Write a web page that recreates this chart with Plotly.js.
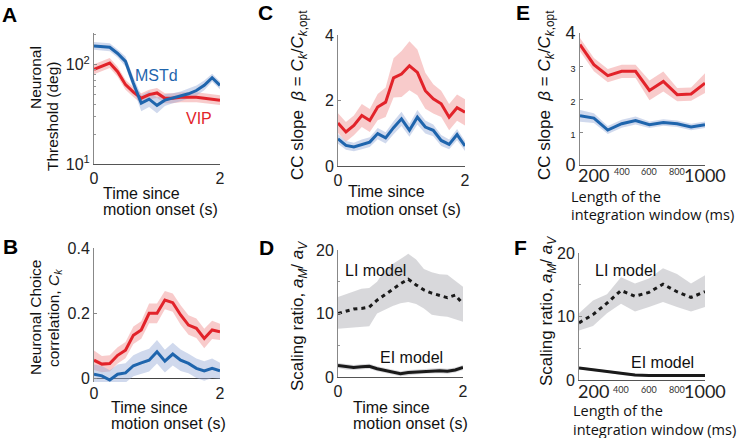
<!DOCTYPE html>
<html><head><meta charset="utf-8">
<script src="https://cdn.plot.ly/plotly-3.0.1.min.js"></script>
<style>body{margin:0;background:#fff}#c{width:740px;height:438px}</style>
</head><body><div id="c"></div>
<script>
// ---------- DATA ----------
const timeS = [0,0.125,0.25,0.375,0.5,0.625,0.75,0.875,1.0,1.125,1.25,1.375,1.5,1.625,1.75,1.875,2.0];
const windowMs = [100,200,300,400,500,600,700,800,900,1000];
const windowBigTicks = [200,1000];
const windowSmallTicks = [400,600,800];

// A: neuronal threshold (deg)
const thrMSTd = [155,153,150,130,108,65,41,45,39,44,46,48,51,55,62,74,62];
const thrMSTdErrLog = [0.04,0.04,0.04,0.04,0.05,0.06,0.08,0.08,0.08,0.06,0.05,0.05,0.05,0.05,0.05,0.04,0.04];
const thrVIP = [90,97,104,85,63,53,46,50,52,46,46,47,47,47,46,45,44];
const thrVIPErrLog = [0.05,0.05,0.05,0.05,0.05,0.05,0.05,0.05,0.05,0.05,0.05,0.05,0.05,0.05,0.05,0.05,0.05];

// B: choice correlation
const ccVIP = [0.055,0.043,0.045,0.07,0.086,0.132,0.148,0.199,0.199,0.24,0.232,0.194,0.163,0.153,0.122,0.148,0.142];
const ccVIPErr = [0.03,0.025,0.025,0.025,0.025,0.027,0.027,0.03,0.03,0.028,0.028,0.03,0.03,0.03,0.03,0.028,0.025];
const ccMSTd = [0.012,0.007,-0.006,0.012,0.016,0.038,0.047,0.055,0.081,0.052,0.074,0.055,0.045,0.030,0.022,0.030,0.022];
const ccMSTdErr = [0.03,0.03,0.03,0.03,0.03,0.032,0.035,0.035,0.036,0.035,0.035,0.033,0.03,0.03,0.03,0.03,0.025];

// C: CC slope vs time
const slopeVIP = [1.31,1.04,1.24,1.54,1.39,1.80,1.95,2.69,2.81,3.06,2.86,2.30,2.05,1.90,1.49,1.78,1.64];
const slopeVIPErr = [0.3,0.3,0.3,0.35,0.35,0.4,0.45,0.6,0.7,0.75,0.7,0.55,0.45,0.4,0.4,0.4,0.4];
const slopeMSTd = [0.83,0.63,0.58,0.66,0.73,0.99,0.86,1.17,1.44,1.09,1.49,1.19,1.09,0.78,0.66,0.96,0.61];
const slopeMSTdErr = [0.15,0.13,0.13,0.15,0.15,0.17,0.17,0.2,0.22,0.2,0.22,0.2,0.18,0.17,0.15,0.17,0.15];

// D: scaling ratio vs time
const liTime = [10.0,10.4,10.7,10.8,11.0,12.1,12.9,13.8,14.7,15.4,14.5,13.7,13.2,12.8,12.5,12.9,11.5];
const liTimeHi = [12.6,13.0,13.5,13.9,14.0,15.0,16.8,17.8,18.6,19.4,18.5,17.0,16.5,16.2,16.1,15.2,14.2];
const liTimeLo = [7.6,7.7,7.8,7.9,8.0,10.0,10.6,11.2,11.6,11.8,11.5,10.8,9.8,9.6,9.5,9.1,8.7];
const eiTime = [1.8,1.6,1.5,1.6,1.7,1.3,1.0,0.8,0.5,0.7,0.8,0.9,1.0,1.0,0.9,1.1,1.5];
const eiTimeErr = [0.4,0.4,0.4,0.4,0.4,0.4,0.4,0.4,0.4,0.4,0.4,0.4,0.4,0.4,0.4,0.4,0.4];

// E: CC slope vs window length
const winVIP = [3.65,3.04,2.71,2.84,2.84,2.26,2.53,2.13,2.15,2.48];
const winVIPErr = [0.2,0.2,0.2,0.2,0.2,0.3,0.3,0.2,0.2,0.3];
const winMSTd = [1.49,1.42,1.06,1.25,1.35,1.22,1.29,1.25,1.15,1.22];
const winMSTdErr = [0.18,0.15,0.12,0.12,0.12,0.1,0.1,0.1,0.1,0.1];

// F: scaling ratio vs window length
const liWin = [9.0,10.3,12.1,14.1,13.2,13.8,15.1,13.9,13.0,13.9];
const liWinHi = [10.5,12.5,13.5,16.2,15.2,16.0,17.6,16.7,15.2,16.5];
const liWinLo = [7.8,8.5,10.5,12.0,10.8,11.5,12.3,11.5,10.8,11.5];
const eiWin = [1.9,1.6,1.4,1.0,0.8,0.7,0.7,0.7,0.7,0.7];
const eiWinErr = [0.2,0.2,0.2,0.2,0.2,0.2,0.2,0.2,0.2,0.2];

// ---------- STYLE ----------
const RED = '#e2232a', BLUE = '#1f65ad', BLACK = '#1a1a1a';
const RED_BAND = 'rgba(240,140,140,0.45)', BLUE_BAND = 'rgba(150,170,215,0.45)', GRAY_BAND = 'rgba(200,200,204,0.7)';
const FONT = 'Liberation Sans';
const W = 740, H = 438;

function band(x, lo, hi, color, ax) {
  return {x: x.concat(x.slice().reverse()), y: hi.concat(lo.slice().reverse()),
    fill: 'toself', fillcolor: color, line: {width: 0}, mode: 'lines', hoverinfo: 'skip',
    xaxis: 'x' + ax, yaxis: 'y' + ax, showlegend: false};
}
function line(x, y, color, ax, dash) {
  return {x: x, y: y, mode: 'lines', line: {color: color, width: 3, dash: dash || 'solid'},
    xaxis: 'x' + ax, yaxis: 'y' + ax, showlegend: false};
}
const add = (a, e) => a.map((v, i) => v + e[i]);
const sub = (a, e) => a.map((v, i) => v - e[i]);
const mulLog = (a, e, s) => a.map((v, i) => v * Math.pow(10, s * e[i]));

const traces = [
  band(timeS, mulLog(thrVIP, thrVIPErrLog, -1), mulLog(thrVIP, thrVIPErrLog, 1), RED_BAND, ''),
  band(timeS, mulLog(thrMSTd, thrMSTdErrLog, -1), mulLog(thrMSTd, thrMSTdErrLog, 1), BLUE_BAND, ''),
  line(timeS, thrVIP, RED, ''), line(timeS, thrMSTd, BLUE, ''),

  band(timeS, sub(ccVIP, ccVIPErr), add(ccVIP, ccVIPErr), RED_BAND, '2'),
  band(timeS, sub(ccMSTd, ccMSTdErr), add(ccMSTd, ccMSTdErr), BLUE_BAND, '2'),
  line(timeS, ccVIP, RED, '2'), line(timeS, ccMSTd, BLUE, '2'),

  band(timeS, sub(slopeVIP, slopeVIPErr), add(slopeVIP, slopeVIPErr), RED_BAND, '3'),
  band(timeS, sub(slopeMSTd, slopeMSTdErr), add(slopeMSTd, slopeMSTdErr), BLUE_BAND, '3'),
  line(timeS, slopeVIP, RED, '3'), line(timeS, slopeMSTd, BLUE, '3'),

  band(timeS, liTimeLo, liTimeHi, GRAY_BAND, '4'),
  band(timeS, sub(eiTime, eiTimeErr), add(eiTime, eiTimeErr), GRAY_BAND, '4'),
  line(timeS, liTime, BLACK, '4', '4px,4px'), line(timeS, eiTime, BLACK, '4'),

  band(windowMs, sub(winVIP, winVIPErr), add(winVIP, winVIPErr), RED_BAND, '5'),
  band(windowMs, sub(winMSTd, winMSTdErr), add(winMSTd, winMSTdErr), BLUE_BAND, '5'),
  line(windowMs, winVIP, RED, '5'), line(windowMs, winMSTd, BLUE, '5'),

  band(windowMs, liWinLo, liWinHi, GRAY_BAND, '6'),
  band(windowMs, sub(eiWin, eiWinErr), add(eiWin, eiWinErr), GRAY_BAND, '6'),
  line(windowMs, liWin, BLACK, '6', '4px,4px'), line(windowMs, eiWin, BLACK, '6'),
];

const dx = (a, b) => [a / W, b / W];
const dy = (top, bot) => [1 - bot / H, 1 - top / H];

const tickFont = {family: FONT, size: 16, color: '#222'};
function xAx(dom, anchor, extra) {
  return Object.assign({domain: dom, anchor: anchor, range: [0, 2], tickvals: [0, 2], ticktext: ['0', '2'],
    showline: true, linecolor: '#555', linewidth: 1, ticks: '', showgrid: false, zeroline: false,
    tickangle: 0, tickfont: tickFont, fixedrange: true}, extra || {});
}
function yAx(dom, anchor, extra) {
  return Object.assign({domain: dom, anchor: anchor, showline: true, linecolor: '#888', linewidth: 1,
    ticks: 'inside', ticklen: 3, tickcolor: '#888', showgrid: false, zeroline: false,
    tickfont: tickFont, fixedrange: true}, extra || {});
}
const sm = s => '<span style="font-size:9px">' + s + '</span>';

const layout = {
  width: W, height: H, margin: {l: 0, r: 0, t: 0, b: 0}, paper_bgcolor: '#fff', plot_bgcolor: 'rgba(0,0,0,0)',
  showlegend: false, font: {family: FONT, size: 15, color: '#222'},
  xaxis: xAx(dx(94, 220), 'y'),
  yaxis: yAx(dy(33, 164), 'x', {type: 'log', range: [1, 2.32], tickvals: [10, 100],
    ticktext: ['10<sup>1</sup>', '10<sup>2</sup>'],
    minor: {tickmode: 'array', tickvals: [20, 30, 40, 50, 60, 70, 80, 90, 200], ticks: 'inside', ticklen: 2, tickcolor: '#999'}}),
  xaxis2: xAx(dx(94, 220), 'y2', {showline: false}),
  yaxis2: yAx(dy(248, 382), 'x2', {range: [-0.012, 0.4], tickvals: [0, 0.2, 0.4], ticktext: ['0', '0.2', '0.4'],
    zeroline: true, zerolinecolor: '#444', zerolinewidth: 1}),
  xaxis3: xAx(dx(338, 465), 'y3'),
  yaxis3: yAx(dy(35, 166), 'x3', {range: [0, 4], tickvals: [0, 2, 4]}),
  xaxis4: xAx(dx(338, 463), 'y4'),
  yaxis4: yAx(dy(250, 377), 'x4', {range: [0, 20], tickvals: [0, 10, 20],
    minor: {tickmode: 'array', tickvals: [5, 15], ticks: 'inside', ticklen: 2, tickcolor: '#999'}}),
  xaxis5: xAx(dx(580, 705), 'y5', {range: [100, 1000], showticklabels: false}),
  yaxis5: yAx(dy(33, 165), 'x5', {range: [0, 4], tickvals: [0, 1, 2, 3, 4],
    ticktext: ['0', sm('1'), sm('2'), sm('3'), '4'], tickfont: {family: FONT, size: 18, color: '#222'}}),
  xaxis6: xAx(dx(579, 705), 'y6', {range: [100, 1000], showticklabels: false}),
  yaxis6: yAx(dy(253, 380), 'x6', {range: [0, 20], tickvals: [0, 10, 20],
    minor: {tickmode: 'array', tickvals: [5, 15], ticks: 'inside', ticklen: 2, tickcolor: '#999'}}),
  annotations: []
};

function ann(text, px, py, opts) {
  layout.annotations.push(Object.assign({text: text, x: px / W, y: 1 - py / H, xref: 'paper', yref: 'paper',
    showarrow: false, xanchor: 'center', yanchor: 'middle', font: {family: FONT, size: 16, color: '#111'}}, opts || {}));
}
// window-length tick labels, placed at data x through each axis' scale
[['x5', 175, 171], ['x6', 391, 389]].forEach(([xr, pyBig, pySmall]) => {
  windowBigTicks.forEach(v => layout.annotations.push({text: String(v), x: v, xref: xr, y: 1 - pyBig / H, yref: 'paper',
    showarrow: false, xanchor: 'center', yanchor: 'middle', font: {family: 'Lato', size: 18, color: '#222'}}));
  windowSmallTicks.forEach(v => layout.annotations.push({text: String(v), x: v, xref: xr, y: 1 - pySmall / H, yref: 'paper',
    showarrow: false, xanchor: 'center', yanchor: 'middle', font: {family: 'Lato', size: 9, color: '#333'}}));
});

const bold = {font: {family: FONT, size: 21, color: '#000', weight: 700}};
ann('<b>A</b>', 9, 14, bold); ann('<b>B</b>', 10, 246, bold); ann('<b>C</b>', 265, 13, bold);
ann('<b>D</b>', 266, 247, bold); ann('<b>E</b>', 523, 13, bold); ann('<b>F</b>', 520, 247, bold);

const vt = {textangle: -90, font: {family: FONT, size: 15.5, color: '#111'}};
ann('Neuronal', 35, 78, vt); ann('Threshold (deg)', 53, 117, vt);
ann('Neuronal Choice', 35, 318, vt); ann('correlation, <i>C</i><sub><i>k</i></sub>', 54, 318, vt);
const vm = {textangle: -90, font: {family: FONT, size: 17, color: '#111'}};
const slopeTxt = 'CC slope  <i>β</i> = <i>C</i><sub><i>k</i></sub>/<i>C</i><sub><i>k</i>,opt</sub>';
ann(slopeTxt, 299, 95, vm);
const ratioTxt = 'Scaling ratio, <i>a</i><sub><i>M</i></sub>/ <i>a</i><sub><i>V</i></sub>';
ann(ratioTxt, 299, 316, vm);
ann(slopeTxt, 546, 95, vm);
ann(ratioTxt, 548, 311, vm);

const L = {xanchor: 'left'};
ann('Time since', 101, 193, L); ann('motion onset (s)', 101, 210, L);
ann('Time since', 109, 407, L); ann('motion onset (s)', 109, 423, L);
ann('Time since', 346, 191, L); ann('motion onset (s)', 344, 210, L);
ann('Time since', 351, 407, L); ann('motion onset (s)', 351, 423, L);
const wl = {xanchor: 'left', font: {family: 'Open Sans', size: 14.5, color: '#111'}};
ann('Length of the', 569, 196, wl); ann('integration window (ms)', 569, 214, wl);
ann('Length of the', 571, 410, wl); ann('integration window (ms)', 571, 429, wl);

ann('MSTd', 156, 75, {font: {family: FONT, size: 16, color: BLUE}});
ann('VIP', 199, 118, {font: {family: FONT, size: 16, color: RED}});
ann('LI model', 375, 270, {font: {family: FONT, size: 16, color: '#111'}});
ann('EI model', 411, 357, {font: {family: FONT, size: 16, color: '#111'}});
ann('LI model', 625, 270, {font: {family: FONT, size: 16, color: '#111'}});
ann('EI model', 662, 362, {font: {family: FONT, size: 16, color: '#111'}});

Plotly.newPlot('c', traces, layout, {staticPlot: true, displayModeBar: false});
</script></body></html>
